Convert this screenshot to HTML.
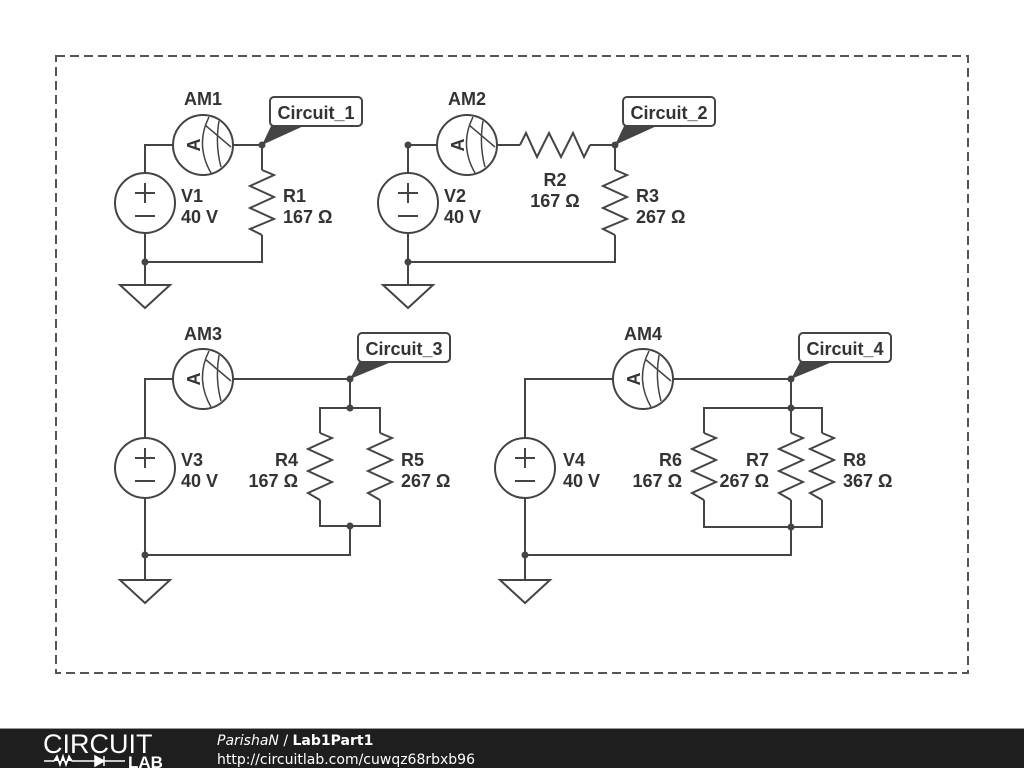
<!DOCTYPE html>
<html><head><meta charset="utf-8"><style>
html,body{margin:0;padding:0;background:#fff;width:1024px;height:768px;overflow:hidden}
svg{display:block}
text{font-family:"Liberation Sans",Arial,sans-serif;font-weight:bold;fill:#333;font-size:18px}
</style></head><body>
<svg width="1024" height="768" viewBox="0 0 1024 768">
<defs>
<g id="am">
<circle cx="0" cy="0" r="30" fill="#fff" stroke="#444" stroke-width="2"/>
<path d="M6,-28 Q-8,0 8,28 M16,-24 Q12,0 18,22 M2,-20 L28,2" fill="none" stroke="#444" stroke-width="1.5"/>
</g>
<g id="vs">
<circle cx="0" cy="0" r="30" fill="#fff" stroke="#444" stroke-width="2"/>
<path d="M-10,-10 H10 M0,-20 V0 M-10,13 H10" stroke="#444" stroke-width="2"/>
</g>
<g id="gnd"><path d="M-25,0 H25 L0,23 Z" fill="#fff" stroke="#444" stroke-width="2"/></g>
</defs>
<rect x="56" y="56" width="912" height="617" fill="none" stroke="#555" stroke-width="2" stroke-dasharray="9,5"/>
<g fill="none" stroke="#444" stroke-width="2">
<path d="M145,173 V145 H173 M233,145 H262 V170 M262,235 V262 H145 V233 M145,262 V285"/>
<polyline points="262,170 274,175 250,186 274,197 250,208 274,219 250,229 262,235"/>
<path d="M408,173 V145 H437 M497,145 H520 M590,145 H615 V170 M615,235 V262 H408 V233 M408,262 V285"/>
<polyline points="520,145 526,133 537,157 549,133 561,157 573,133 584,157 590,145"/>
<polyline points="615,170 627,175 603,186 627,197 603,208 627,219 603,229 615,235"/>
<path d="M145,438 V379 H173 M233,379 H350 V408 M320,433 V408 H380 V433 M320,500 V526 H380 V500 M350,526 V555 H145 V498 M145,555 V580"/>
<polyline points="320,433 332,438 308,449 332,460 308,471 332,482 308,493 320,500"/>
<polyline points="380,433 392,438 368,449 392,460 368,471 392,482 368,493 380,500"/>
<path d="M525,438 V379 H613 M673,379 H791 V408 M704,433 V408 H822 V433 M791,408 V433 M704,500 V527 H822 V500 M791,500 V555 H525 V498 M525,555 V580"/>
<polyline points="704,433 716,438 692,449 716,460 692,471 716,482 692,493 704,500"/>
<polyline points="791,433 803,438 779,449 803,460 779,471 803,482 779,493 791,500"/>
<polyline points="822,433 834,438 810,449 834,460 810,471 834,482 810,493 822,500"/>
</g>
<g fill="#444">
<circle cx="262" cy="145" r="3.5"/><circle cx="145" cy="262" r="3.5"/>
<circle cx="408" cy="145" r="3.5"/><circle cx="615" cy="145" r="3.5"/><circle cx="408" cy="262" r="3.5"/>
<circle cx="350" cy="379" r="3.5"/><circle cx="350" cy="408" r="3.5"/><circle cx="350" cy="526" r="3.5"/><circle cx="145" cy="555" r="3.5"/>
<circle cx="791" cy="379" r="3.5"/><circle cx="791" cy="408" r="3.5"/><circle cx="791" cy="527" r="3.5"/><circle cx="525" cy="555" r="3.5"/>
<path d="M262,145 L272,124 H308 Z"/><path d="M615,145 L625,124 H661 Z"/>
<path d="M350,379 L360,360 H396 Z"/><path d="M791,379 L801,360 H837 Z"/>
</g>
<use href="#am" x="203" y="145"/><use href="#am" x="467" y="145"/><use href="#am" x="203" y="379"/><use href="#am" x="643" y="379"/>
<use href="#vs" x="145" y="203"/><use href="#vs" x="408" y="203"/><use href="#vs" x="145" y="468"/><use href="#vs" x="525" y="468"/>
<use href="#gnd" x="145" y="285"/><use href="#gnd" x="408" y="285"/><use href="#gnd" x="145" y="580"/><use href="#gnd" x="525" y="580"/>
<g>
<text transform="translate(194,145) rotate(-90)" text-anchor="middle" y="6">A</text>
<text transform="translate(458,145) rotate(-90)" text-anchor="middle" y="6">A</text>
<text transform="translate(194,379) rotate(-90)" text-anchor="middle" y="6">A</text>
<text transform="translate(634,379) rotate(-90)" text-anchor="middle" y="6">A</text>
</g>
<g fill="#fff" stroke="#444" stroke-width="2">
<rect x="270" y="97" width="92" height="29" rx="4"/><rect x="623" y="97" width="92" height="29" rx="4"/>
<rect x="358" y="333" width="92" height="29" rx="4"/><rect x="799" y="333" width="92" height="29" rx="4"/>
</g>
<text x="316" y="119" text-anchor="middle">Circuit_1</text>
<text x="669" y="119" text-anchor="middle">Circuit_2</text>
<text x="404" y="355" text-anchor="middle">Circuit_3</text>
<text x="845" y="355" text-anchor="middle">Circuit_4</text>
<text x="203" y="105" text-anchor="middle">AM1</text>
<text x="467" y="105" text-anchor="middle">AM2</text>
<text x="203" y="340" text-anchor="middle">AM3</text>
<text x="643" y="340" text-anchor="middle">AM4</text>
<text x="181" y="202">V1</text><text x="181" y="223">40 V</text>
<text x="283" y="202">R1</text><text x="283" y="223">167 Ω</text>
<text x="444" y="202">V2</text><text x="444" y="223">40 V</text>
<text x="555" y="186" text-anchor="middle">R2</text><text x="555" y="207" text-anchor="middle">167 Ω</text>
<text x="636" y="202">R3</text><text x="636" y="223">267 Ω</text>
<text x="181" y="466">V3</text><text x="181" y="487">40 V</text>
<text x="298" y="466" text-anchor="end">R4</text><text x="298" y="487" text-anchor="end">167 Ω</text>
<text x="401" y="466">R5</text><text x="401" y="487">267 Ω</text>
<text x="563" y="466">V4</text><text x="563" y="487">40 V</text>
<text x="682" y="466" text-anchor="end">R6</text><text x="682" y="487" text-anchor="end">167 Ω</text>
<text x="769" y="466" text-anchor="end">R7</text><text x="769" y="487" text-anchor="end">267 Ω</text>
<text x="843" y="466">R8</text><text x="843" y="487">367 Ω</text>
<rect x="0" y="729" width="1024" height="39" fill="#1e1e1e"/>
<rect x="0" y="728" width="1024" height="1" fill="#999"/>
<text x="43" y="753" style="font-weight:normal;font-size:27px;fill:#fff">CIRCUIT</text>
<path d="M44,761 H54 L57,756 L60,765 L63,756 L66,765 L69,756 L72,761 H95 M95,756 V766 L104,761 Z M104,756 V766 M104,761 H125" stroke="#fff" stroke-width="1.5" fill="#fff"/>
<text x="128" y="768" style="font-size:17px;fill:#fff">LAB</text>
<text x="217" y="745" style="font-family:'DejaVu Sans',sans-serif;font-weight:normal;font-size:14px;fill:#fff"><tspan font-style="italic">ParishaN</tspan> / <tspan font-weight="bold">Lab1Part1</tspan></text>
<text x="217" y="764" style="font-family:'DejaVu Sans',sans-serif;font-weight:normal;font-size:14px;fill:#fff">http://circuitlab.com/cuwqz68rbxb96</text>
</svg>
</body></html>
